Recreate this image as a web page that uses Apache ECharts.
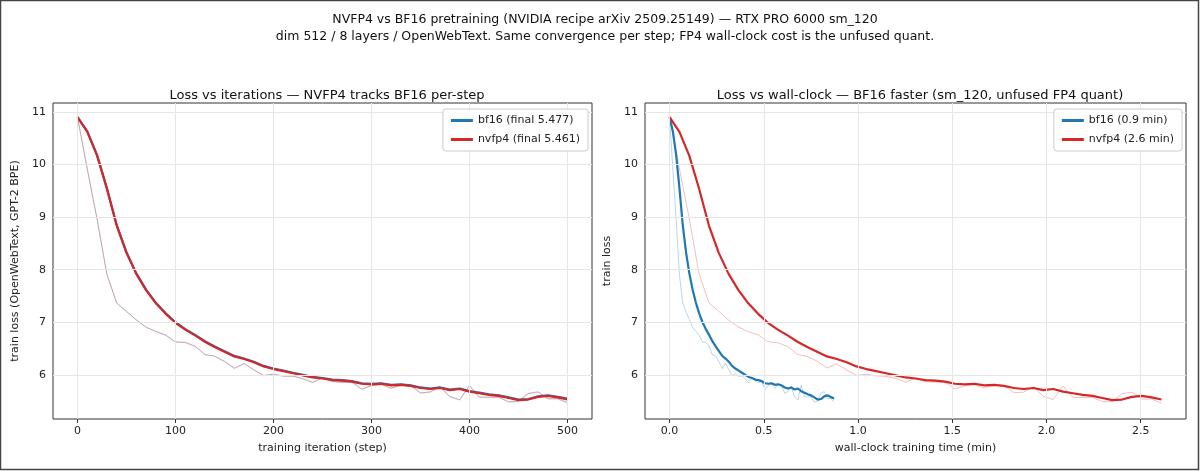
<!DOCTYPE html>
<html><head><meta charset="utf-8">
<script src="https://cdn.jsdelivr.net/npm/echarts@6/dist/echarts.min.js"></script>
<style>html,body{margin:0;padding:0;background:#fff}#c{width:1200px;height:471px}</style>
</head><body><div id="c"></div>
<script>
const steps = [0,10,20,30,40,50,60,70,80,90,100,110,120,130,140,150,160,170,180,190,200,210,220,230,240,250,260,270,280,290,300,310,320,330,340,350,360,370,380,390,400,410,420,430,440,450,460,470,480,490,500];
const bf16Smooth = [10.90,10.63,10.18,9.55,8.85,8.33,7.93,7.62,7.37,7.17,7.00,6.87,6.76,6.64,6.54,6.45,6.36,6.31,6.25,6.17,6.12,6.08,6.04,6.00,5.96,5.94,5.91,5.90,5.88,5.84,5.83,5.84,5.81,5.82,5.80,5.76,5.74,5.76,5.72,5.74,5.69,5.66,5.63,5.61,5.57,5.53,5.54,5.59,5.61,5.58,5.55];
const nvfp4Smooth = [10.90,10.62,10.17,9.54,8.84,8.32,7.92,7.61,7.36,7.16,6.99,6.86,6.75,6.63,6.53,6.44,6.35,6.30,6.24,6.16,6.11,6.07,6.03,5.99,5.95,5.93,5.90,5.89,5.87,5.83,5.82,5.83,5.80,5.81,5.79,5.75,5.73,5.75,5.71,5.73,5.68,5.65,5.62,5.60,5.56,5.52,5.53,5.58,5.60,5.57,5.53];
const bf16Raw = [10.90,9.90,8.95,7.90,7.36,7.20,7.05,6.90,6.83,6.75,6.62,6.62,6.55,6.38,6.36,6.25,6.12,6.22,6.10,5.98,6.02,5.97,5.98,5.92,5.85,5.95,5.88,5.85,5.87,5.72,5.80,5.82,5.74,5.81,5.80,5.65,5.68,5.78,5.58,5.52,5.80,5.58,5.58,5.58,5.48,5.50,5.65,5.68,5.55,5.55,5.48];
const nvfp4Raw = [10.90,9.92,8.97,7.92,7.37,7.21,7.04,6.91,6.82,6.76,6.63,6.61,6.54,6.39,6.35,6.26,6.13,6.21,6.09,5.99,6.01,5.98,5.97,5.93,5.86,5.94,5.87,5.86,5.86,5.73,5.79,5.81,5.75,5.80,5.79,5.66,5.67,5.77,5.59,5.53,5.79,5.57,5.57,5.57,5.49,5.49,5.64,5.67,5.54,5.54,5.46];
const bf16Minutes = 0.873;
const nvfp4Minutes = 2.61;
const bf16Time = steps.map(s => s * bf16Minutes / 500);
const nvfp4Time = steps.map(s => s * nvfp4Minutes / 500);
const xTicksLeft = [0,100,200,300,400,500];
const xTicksRight = [0,0.5,1,1.5,2,2.5];
const yTicks = [6,7,8,9,10,11];

const BLUE = '#1f77b4', RED = '#d62728';
const F = 'DejaVu Sans';
const pair = (xs, ys) => xs.map((x, i) => [x, ys[i]]);

function axis(type, idx, min, max, ticks, name, fmt, gap) {
  return {type: 'value', gridIndex: idx, min, max, name, nameLocation: 'middle', nameGap: gap,
    nameTextStyle: {color: '#222', fontFamily: F, fontSize: 11},
    axisLine: {show: false},
    axisTick: {show: true, length: 4, lineStyle: {color: '#333'}, customValues: ticks},
    axisLabel: {color: '#222', fontFamily: F, fontSize: 11, margin: 7, customValues: ticks, formatter: fmt},
    splitLine: {show: false}};
}
const gridLines = (xt, yt) => ({silent: true, symbol: 'none', label: {show: false},
  lineStyle: {color: '#e6e6e6', type: 'solid', width: 1},
  data: xt.map(v => ({xAxis: v})).concat(yt.map(v => ({yAxis: v})))});
const raw = (x, y, data, color, ml) => ({type: 'line', xAxisIndex: x, yAxisIndex: y, data, symbol: 'none',
  lineStyle: {width: 1, color}, z: 1, silent: true, markLine: ml});
const main = (name, x, y, data, color) => ({name, type: 'line', xAxisIndex: x, yAxisIndex: y, data, symbol: 'none',
  lineStyle: {width: 2.2, color}, itemStyle: {color}, z: 3});
const legendBase = {orient: 'vertical', top: 109, icon: 'rect', itemWidth: 22, itemHeight: 3, itemGap: 8,
  padding: [6, 8], borderColor: '#ccc', borderWidth: 1, borderRadius: 3, z: 50,
  backgroundColor: 'rgba(255,255,255,0.92)', textStyle: {fontFamily: F, fontSize: 11, color: '#222'}};

const option = {
  animation: false,
  backgroundColor: '#fff',
  title: [
    {text: 'NVFP4 vs BF16 pretraining (NVIDIA recipe arXiv 2509.25149) — RTX PRO 6000 sm_120\ndim 512 / 8 layers / OpenWebText. Same convergence per step; FP4 wall-clock cost is the unfused quant.',
     left: 600, top: 6, textAlign: 'center', textStyle: {fontFamily: F, fontSize: 12.5, fontWeight: 'normal', color: '#111', lineHeight: 17}},
    {text: 'Loss vs iterations — NVFP4 tracks BF16 per-step', left: 322, top: 84, textAlign: 'center',
     textStyle: {fontFamily: F, fontSize: 13, fontWeight: 'normal', color: '#111'}},
    {text: 'Loss vs wall-clock — BF16 faster (sm_120, unfused FP4 quant)', left: 915, top: 84, textAlign: 'center',
     textStyle: {fontFamily: F, fontSize: 13, fontWeight: 'normal', color: '#111'}}
  ],
  legend: [
    Object.assign({}, legendBase, {data: ['bf16 (final 5.477)', 'nvfp4 (final 5.461)'], right: 612}),
    Object.assign({}, legendBase, {data: ['bf16 (0.9 min)', 'nvfp4 (2.6 min)'], right: 18})
  ],
  grid: [
    {left: 53, top: 103, width: 539, height: 316, show: true, borderColor: '#333', borderWidth: 1},
    {left: 645, top: 103, width: 541, height: 316, show: true, borderColor: '#333', borderWidth: 1}
  ],
  xAxis: [
    axis('x', 0, -25, 525, xTicksLeft, 'training iteration (step)', v => String(v), 24),
    axis('x', 1, -0.1305, 2.7405, xTicksRight, 'wall-clock training time (min)', v => Number(v).toFixed(1), 24)
  ],
  yAxis: [
    axis('y', 0, 5.16, 11.17, yTicks, 'train loss (OpenWebText, GPT-2 BPE)', v => String(v), 32),
    axis('y', 1, 5.16, 11.17, yTicks, 'train loss', v => String(v), 32)
  ],
  series: [
    raw(0, 0, pair(steps, bf16Raw), 'rgba(31,119,180,0.3)', gridLines(xTicksLeft, yTicks)),
    raw(0, 0, pair(steps, nvfp4Raw), 'rgba(214,39,40,0.3)'),
    main('bf16 (final 5.477)', 0, 0, pair(steps, bf16Smooth), BLUE),
    main('nvfp4 (final 5.461)', 0, 0, pair(steps, nvfp4Smooth), RED),
    raw(1, 1, pair(bf16Time, bf16Raw), 'rgba(31,119,180,0.3)', gridLines(xTicksRight, yTicks)),
    raw(1, 1, pair(nvfp4Time, nvfp4Raw), 'rgba(214,39,40,0.3)'),
    main('bf16 (0.9 min)', 1, 1, pair(bf16Time, bf16Smooth), BLUE),
    main('nvfp4 (2.6 min)', 1, 1, pair(nvfp4Time, nvfp4Smooth), RED)
  ],
  graphic: [{type: 'rect', shape: {x: 0.5, y: 0.5, width: 1198, height: 469}, style: {fill: 'none', stroke: '#444', lineWidth: 1.5}, silent: true}]
};
echarts.init(document.getElementById('c')).setOption(option);
</script></body></html>
